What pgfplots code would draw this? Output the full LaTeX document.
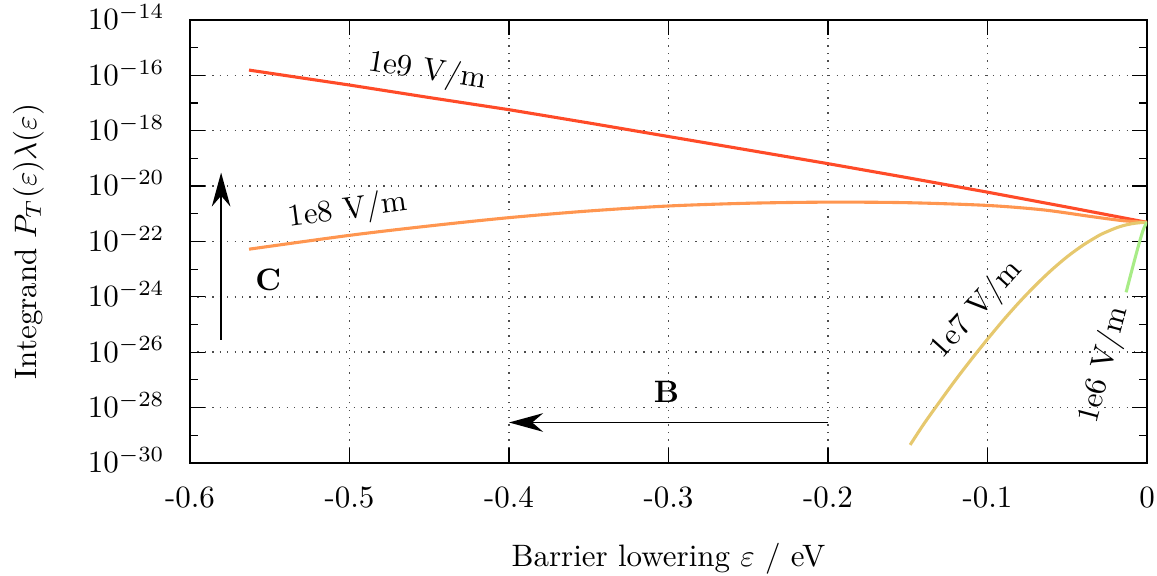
\documentclass[border=0pt]{standalone}
\usepackage{pgfplots}
\pgfplotsset{compat=1.18}
\usetikzlibrary{arrows.meta}
\definecolor{cred}{RGB}{255,75,40}
\definecolor{corange}{RGB}{255,150,80}
\definecolor{cyellow}{RGB}{230,200,110}
\definecolor{cgreen}{RGB}{168,236,135}
\begin{document}
\begin{tikzpicture}
\begin{axis}[
  scale only axis, width=309pt, height=143pt,
  xmin=-0.6, xmax=0, ymode=log, ymin=1e-30, ymax=1e-14,
  xtick={-0.6,-0.5,-0.4,-0.3,-0.2,-0.1,0},
  xticklabels={-0.6,-0.5,-0.4,-0.3,-0.2,-0.1,0},
  ytick={1e-30,1e-28,1e-26,1e-24,1e-22,1e-20,1e-18,1e-16,1e-14},
  minor ytick={1e-29,1e-27,1e-25,1e-23,1e-21,1e-19,1e-17,1e-15},
  grid=major, major grid style={dotted, black!70, line width=0.5pt},
  tick align=inside, major tick length=4.8pt, minor tick length=2.5pt,
  tick style={black, line width=0.4pt},
  axis line style={line width=0.6pt},
  xticklabel style={anchor=base, yshift=-14.4pt},
  yticklabel style={anchor=base east, yshift=-3.2pt, xshift=-4.7pt},
  xlabel={Barrier lowering $\varepsilon$ / eV},
  xlabel style={at={(axis description cs:0.5,0)}, anchor=base, yshift=-33.5pt},
  ylabel={Integrand $P_T(\varepsilon)\lambda(\varepsilon)$},
  ylabel style={at={(axis description cs:-0.1608,0.5)}, anchor=base},
]
% 1e9 V/m
\addplot[cred, line width=1pt] coordinates {
(-0.563,1.55e-16) (-0.5,4.47e-17) (-0.45,1.58e-17) (-0.4,5.75e-18) (-0.35,1.91e-18)
(-0.3,6.17e-19) (-0.25,2.00e-19) (-0.2,6.46e-20) (-0.15,2.00e-20) (-0.1,6.03e-21)
(-0.05,1.74e-21) (0,4.90e-22)};
% 1e8 V/m
\addplot[corange, line width=1pt, smooth] coordinates {
(-0.563,5.25e-23) (-0.5,1.66e-22) (-0.45,3.63e-22) (-0.4,7.24e-22) (-0.35,1.26e-21)
(-0.3,1.91e-21) (-0.25,2.40e-21) (-0.2,2.63e-21) (-0.15,2.51e-21) (-0.1,2.00e-21)
(-0.065,1.38e-21) (-0.035,7.94e-22) (-0.015,5.62e-22) (0,4.90e-22)};
% 1e7 V/m
\addplot[cyellow, line width=1pt, smooth] coordinates {
(-0.1485,4.47e-30) (-0.14,2.51e-29) (-0.13,1.62e-28) (-0.12,1.0e-27) (-0.11,5.62e-27)
(-0.10,2.95e-26) (-0.09,1.45e-25) (-0.08,6.46e-25) (-0.07,2.57e-24) (-0.06,9.12e-24)
(-0.05,2.82e-23) (-0.04,7.41e-23) (-0.03,1.66e-22) (-0.025,2.26e-22) (-0.02,2.99e-22)
(-0.015,3.72e-22) (-0.01,4.32e-22) (-0.005,4.73e-22) (0,4.90e-22)};
% 1e6 V/m
\addplot[cgreen, line width=1pt, smooth] coordinates {
(-0.0131,1.45e-24) (-0.010,7.08e-24) (-0.007,3.16e-23) (-0.0045,1.05e-22)
(-0.0026,2.40e-22) (-0.001,3.98e-22) (0,4.90e-22)};
\node[rotate=-9] at (axis cs:-0.4512,1.35e-16) {1e9 V/m};
\node[rotate=7.5] at (axis cs:-0.5008,1.29e-21) {1e8 V/m};
\node[rotate=48] at (axis cs:-0.1066,3.39e-25) {1e7 V/m};
\node[rotate=75] at (axis cs:-0.0269,3.47e-27) {1e6 V/m};
\node at (axis cs:-0.551,4.07e-24) {\textbf{C}};
\node at (axis cs:-0.3012,3.7e-28) {\textbf{B}};
\draw[line width=0.5pt, -{Stealth[length=11pt,width=6pt,inset=3.5pt]}] (axis cs:-0.2,2.88e-29) -- (axis cs:-0.4,2.88e-29);
\draw[line width=0.5pt, -{Stealth[length=11pt,width=6pt,inset=3.5pt]}] (axis cs:-0.5805,2.82e-26) -- (axis cs:-0.5805,3.09e-20);
\end{axis}
\pgfresetboundingbox
\path (current axis.south west) ++(-61.35pt,-36.5pt) rectangle ([xshift=3.23pt,yshift=6.46pt]current axis.north east);
\end{tikzpicture}
\end{document}
